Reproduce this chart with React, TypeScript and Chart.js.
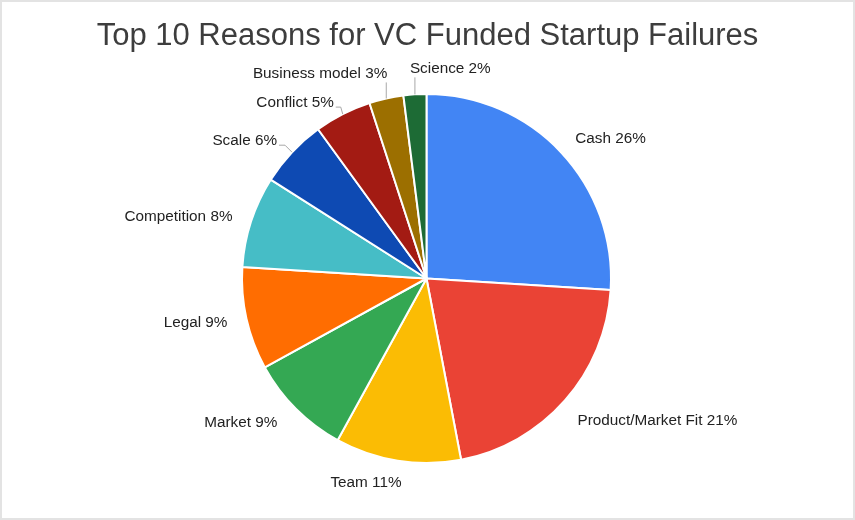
import { useEffect, useRef } from "react";
import { Chart, PieController, ArcElement } from "chart.js";

Chart.register(PieController, ArcElement);

const TITLE = "Top 10 Reasons for VC Funded Startup Failures";

const categories = [
  "Cash",
  "Product/Market Fit",
  "Team",
  "Market",
  "Legal",
  "Competition",
  "Scale",
  "Conflict",
  "Business model",
  "Science",
];
const shares = [26, 21, 11, 9, 9, 8, 6, 5, 3, 2];
const colors = [
  "#4285F4",
  "#EA4335",
  "#FBBC04",
  "#34A853",
  "#FF6D01",
  "#46BDC6",
  "#0E4AB3",
  "#A31B13",
  "#9C6F00",
  "#1D6B35",
];

// labels that sit off their slice with a small leader line
const leaders: Record<string, { dx: number; dy: number; run: number; side: "left" | "upLeft" | "upRight" }> = {
  Scale: { dx: -7, dy: -7, run: 6, side: "left" },
  Conflict: { dx: -2, dy: -7, run: 5, side: "left" },
  "Business model": { dx: 0, dy: -16, run: 0, side: "upLeft" },
  Science: { dx: 0, dy: -17, run: 0, side: "upRight" },
};
// small shifts where the sheet moved a label off its plain spot
const nudges: Record<string, [number, number]> = {
  "Product/Market Fit": [-2, 7],
  Team: [7, 3],
  Market: [-5, 0],
  Competition: [0, 1],
};

const FONT = "'Liberation Sans', Arial, sans-serif";

const sliceLabels = {
  id: "sliceLabels",
  beforeDraw(chart: Chart) {
    const { ctx, width, height } = chart;
    ctx.save();
    ctx.fillStyle = "#fff";
    ctx.fillRect(0, 0, width, height);
    ctx.strokeStyle = "#e3e3e3";
    ctx.lineWidth = 2;
    ctx.strokeRect(1, 1, width - 2, height - 2);
    ctx.fillStyle = "#3d3d3d";
    ctx.font = `31px ${FONT}`;
    ctx.textAlign = "center";
    ctx.textBaseline = "alphabetic";
    ctx.fillText(TITLE, width / 2, 45);
    ctx.restore();
  },
  afterDatasetsDraw(chart: Chart) {
    const ctx = chart.ctx;
    const meta = chart.getDatasetMeta(0);
    ctx.save();
    ctx.font = `15.3px ${FONT}`;
    ctx.fillStyle = "#222";
    ctx.strokeStyle = "#a8a8a8";
    ctx.lineWidth = 1;
    meta.data.forEach((arc: any, i: number) => {
      const { x, y, startAngle, endAngle, outerRadius } = arc.getProps(
        ["x", "y", "startAngle", "endAngle", "outerRadius"],
        true
      );
      const mid = (startAngle + endAngle) / 2;
      const cos = Math.cos(mid);
      const sin = Math.sin(mid);
      const text = `${categories[i]} ${shares[i]}%`;
      const lead = leaders[categories[i]];
      ctx.textBaseline = "middle";
      if (!lead) {
        const [nx, ny] = nudges[categories[i]] || [0, 0];
        const px = x + cos * (outerRadius + 19.5) + nx;
        const py = y + sin * (outerRadius + 19.5) + ny;
        ctx.textAlign = cos >= 0 ? "left" : "right";
        ctx.fillText(text, px, py);
        return;
      }
      const ex = x + cos * outerRadius;
      const ey = y + sin * outerRadius;
      const bx = ex + lead.dx;
      const by = ey + lead.dy;
      ctx.beginPath();
      ctx.moveTo(ex, ey);
      ctx.lineTo(bx, by);
      if (lead.side === "left") ctx.lineTo(bx - lead.run, by);
      ctx.stroke();
      if (lead.side === "left") {
        ctx.textAlign = "right";
        ctx.fillText(text, bx - lead.run - 2, by - 4);
      } else if (lead.side === "upLeft") {
        ctx.textAlign = "right";
        ctx.fillText(text, bx + 1, by - 9);
      } else {
        ctx.textAlign = "left";
        ctx.fillText(text, bx - 5, by - 9);
      }
    });
    ctx.restore();
  },
};

const StartupPie = () => {
  const canvasRef = useRef<HTMLCanvasElement | null>(null);
  const chartRef = useRef<Chart | null>(null);

  useEffect(() => {
    if (!canvasRef.current) return;
    if (chartRef.current) chartRef.current.destroy();
    chartRef.current = new Chart(canvasRef.current, {
      type: "pie",
      data: {
        labels: categories,
        datasets: [
          {
            data: shares,
            backgroundColor: colors,
            borderColor: "#fff",
            borderWidth: 2,
          },
        ],
      },
      options: {
        responsive: true,
        maintainAspectRatio: false,
        animation: false,
        radius: 184.5,
        layout: { padding: { top: 94, bottom: 57, left: 0, right: 2 } },
        plugins: {
          legend: { display: false },
          title: { display: false },
          tooltip: { enabled: false },
        },
      },
      plugins: [sliceLabels],
    });
    return () => {
      chartRef.current?.destroy();
      chartRef.current = null;
    };
  }, []);

  return (
    <div style={{ position: "fixed", left: 0, top: 0, width: 855, height: 520 }}>
      <canvas ref={canvasRef}></canvas>
    </div>
  );
};

export default function App() {
  return <StartupPie />;
}
